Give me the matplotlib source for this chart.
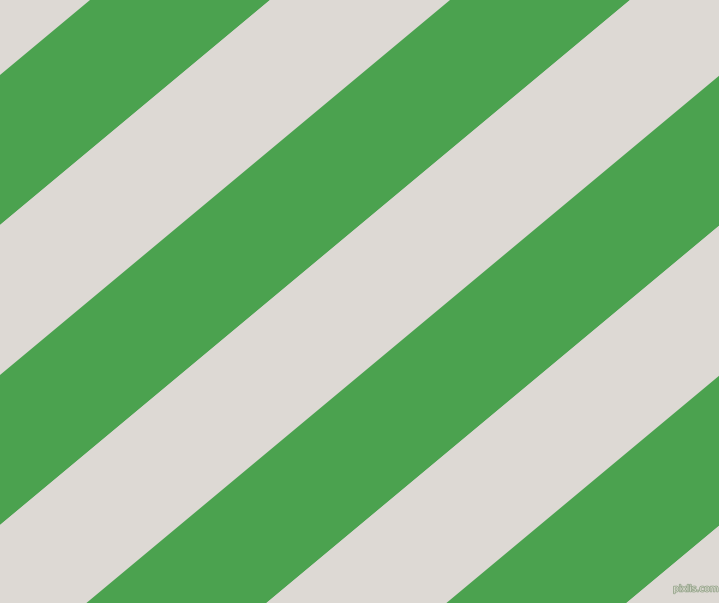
import numpy as np
import matplotlib.pyplot as plt
from matplotlib import patheffects

# picture size in pixels
W, H = 719, 603

# stripe edges, measured as x + k*y along the stripe direction
k = 1.2
edges = [90, 270, 450, 630, 810, 990, 1170, 1350]
colors = ['#4ba24f', '#ddd9d4']
bg = '#ddd9d4'

fig = plt.figure(figsize=(W / 100, H / 100), dpi=100)
ax = fig.add_axes([0, 0, 1, 1])
ax.set_xlim(0, W)
ax.set_ylim(H, 0)
ax.axis('off')
fig.patch.set_facecolor(bg)
ax.set_facecolor(bg)

ys = np.array([-10, H + 10])
for i in range(len(edges)):
    c0 = edges[i]
    c1 = edges[i + 1] if i + 1 < len(edges) else 2000
    xs = np.concatenate([c0 - k * ys, (c1 - k * ys)[::-1]])
    yy = np.concatenate([ys, ys[::-1]])
    ax.fill(xs, yy, color=colors[i % 2], lw=0)

t = ax.text(696, 589, 'pixlis.com', fontsize=6.5, color='#dcdcd0',
            ha='center', va='center')
t.set_path_effects([patheffects.withStroke(linewidth=1.2, foreground='#9aa890')])

fig.savefig('out.png', dpi=100, facecolor=bg)
